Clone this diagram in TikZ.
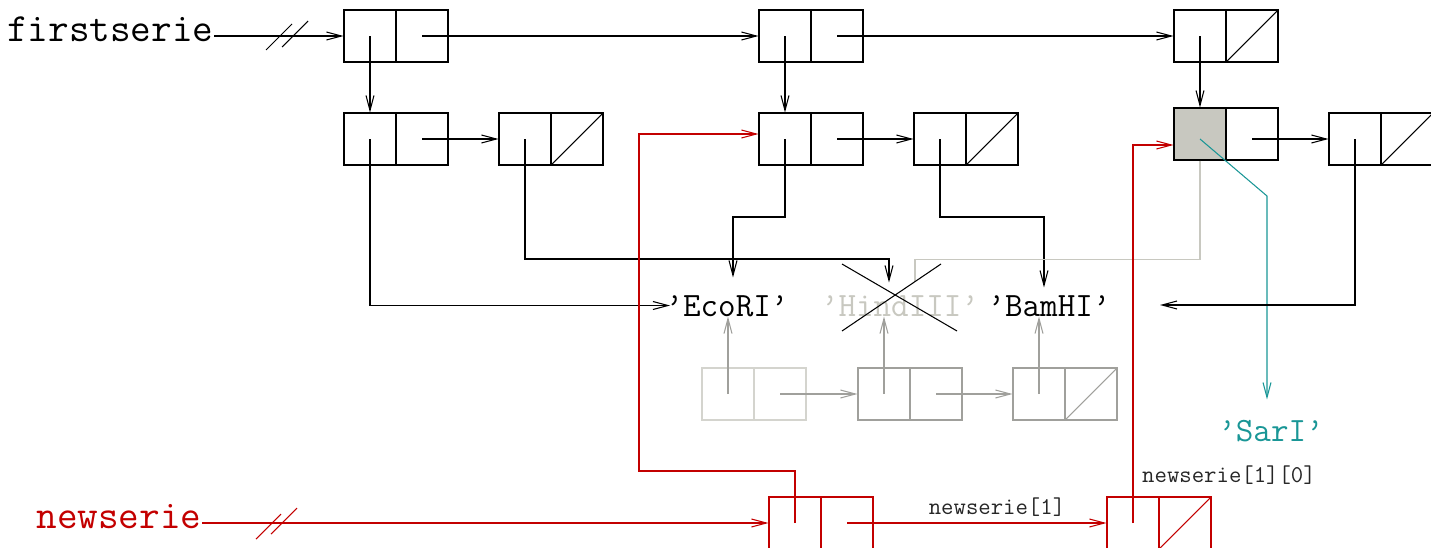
\documentclass[tikz,border=0pt]{standalone}
\usepackage{fontspec}
\usepackage{tikz}
\usetikzlibrary{arrows.meta}
\definecolor{newred}{RGB}{195,0,0}
\definecolor{sariteal}{RGB}{25,150,150}
\definecolor{cellgrey}{RGB}{200,200,192}
\definecolor{faint}{RGB}{212,212,206}
\definecolor{dim}{RGB}{160,160,156}
\tikzset{
  cell/.style={draw, rectangle, minimum width=1.04cm, minimum height=1.04cm, inner sep=0pt},
  ptr/.style={-{Straight Barb[length=3mm,width=1.6mm]}},
  enzyme/.style={font=\ttfamily\fontsize{19.4pt}{22pt}\selectfont, inner sep=0pt, anchor=base, text height=0.38cm, text depth=0pt},
  varname/.style={font=\ttfamily\fontsize{22.8pt}{26pt}\selectfont, inner sep=0pt, anchor=base east},
  idx/.style={font=\ttfamily\fontsize{13.7pt}{16pt}\selectfont, inner sep=0pt, anchor=base, text=black!85}
}

\begin{document}
\begin{tikzpicture}[x=0.02cm, y=-0.02cm, line width=0.6pt]
  \useasboundingbox (0,0) rectangle (1431,548);
  % firstserie and its sublists
  \foreach \n/\x/\y in {a1/370/36, a2/785/36, a3/1200/36, b1/370/139, b2/525/139, b3/785/139, b4/940/139, b6/1355/139} {
    \node[cell] (\n-h) at (\x,\y) {};
    \node[cell] (\n-t) at (\x+52,\y) {};
  }
  \node[cell, fill=cellgrey] (b5-h) at (1200,134) {};
  \node[cell] (b5-t) at (1252,134) {};
  % the old copy
  \foreach \n/\x/\c in {c1/728/faint, c2/884/dim, c3/1039/dim} {
    \node[cell, draw=\c] (\n-h) at (\x,394) {};
    \node[cell, draw=\c] (\n-t) at (\x+52,394) {};
  }
  % newserie
  \node[cell, draw=newred] (d1-h) at (795,523) {};
  \node[cell, draw=newred] (d1-t) at (847,523) {};
  \node[cell, draw=newred] (d2-h) at (1133,523) {};
  \node[cell, draw=newred] (d2-t) at (1185,523) {};
  \foreach \n in {a3,b2,b4,b6} \draw (\n-t.south west) -- (\n-t.north east);
  \draw[dim] (c3-t.south west) -- (c3-t.north east);
  \draw[newred] (d2-t.south west) -- (d2-t.north east);

  % texts
  \node[varname] (fs) at (214,41) {firstserie};
  \node[varname, text=newred] (ns) at (202,528) {newserie};
  \node[enzyme] (eco) at (727,316) {’EcoRI’};
  \node[enzyme, text=cellgrey] (hind) at (900,316) {’HindIII’};
  \node[enzyme] (bam) at (1049,316) {’BamHI’};
  \node[enzyme, text=sariteal] (sari) at (1271,441) {’SarI’};
  \node[idx] (lbl1) at (997,514) {newserie[1]};
  \node[idx] (lbl2) at (1229,482) {newserie[1][0]};
  \coordinate (b6-end) at (1160,305);

  % firstserie pointers
  \draw[ptr] (fs.east |- a1-h.west) -- (a1-h.west);
  \draw (266,50) -- (292,24);
  \draw (282,47) -- (308,21);
  \draw[ptr] (a1-t.center) -- (a2-h.west);
  \draw[ptr] (a2-t.center) -- (a3-h.west);
  \foreach \n/\m in {a1/b1, a2/b3, a3/b5} \draw[ptr] (\n-h.center) -- (\m-h.north);
  \draw[ptr] (b1-t.center) -- (b2-h.west);
  \draw[ptr] (b3-t.center) -- (b4-h.west);
  \draw[ptr] (b5-t.center |- b6-h.west) -- (b6-h.west);
  \draw[ptr] (b1-h.center) |- ([shift={(5,-1)}]eco.west);
  \draw[ptr] (b2-h.center) -- ++(0,120) -| ([shift={(-11,-14)}]hind.north);
  \draw[ptr] (b3-h.center) -- ++(0,78) -| ([shift={(6,-19)}]eco.north);
  \draw[ptr] (b4-h.center) -- ++(0,78) -| ([shift={(-5,-9)}]bam.north);
  \draw[cellgrey] (b5-h.south) -- ++(0,99) -| ([shift={(15,-14)}]hind.north);
  \draw[ptr, sariteal] (b5-h.center |- b6-h.center) -- ++(67,57) -- ([shift={(-4,-22)}]sari.north);
  \draw[ptr] (b6-h.center) |- (b6-end);
  % crossed out
  \draw ([shift={(-58,-52)}]hind.base) -- ([shift={(57,15)}]hind.base);
  \draw ([shift={(-58,15)}]hind.base) -- ([shift={(41,-52)}]hind.base);

  % old copy pointers
  \draw[ptr, dim] (c1-h.center) -- (c1-h.center |- eco.south);
  \draw[ptr, dim] (c2-h.center) -- (c2-h.center |- hind.south);
  \draw[ptr, dim] (c3-h.center) -- (c3-h.center |- bam.south);
  \draw[ptr, dim] (c1-t.center) -- (c2-h.west);
  \draw[ptr, dim] (c2-t.center) -- (c3-h.west);

  % newserie pointers
  \draw[ptr, newred] (ns.east |- d1-h.west) -- (d1-h.west);
  \draw[newred] (256,539) -- (281,514);
  \draw[newred] (271,534) -- (297,508);
  \draw[ptr, newred] (d1-t.center) -- (d2-h.west);
  \draw[ptr, newred] (d1-h.center) -- ++(0,-52) -- ++(-156,0) |- ([shift={(0,-5)}]b3-h.west);
  \draw[ptr, newred] (d2-h.center) |- ([shift={(0,11)}]b5-h.west);
\end{tikzpicture}
\end{document}
